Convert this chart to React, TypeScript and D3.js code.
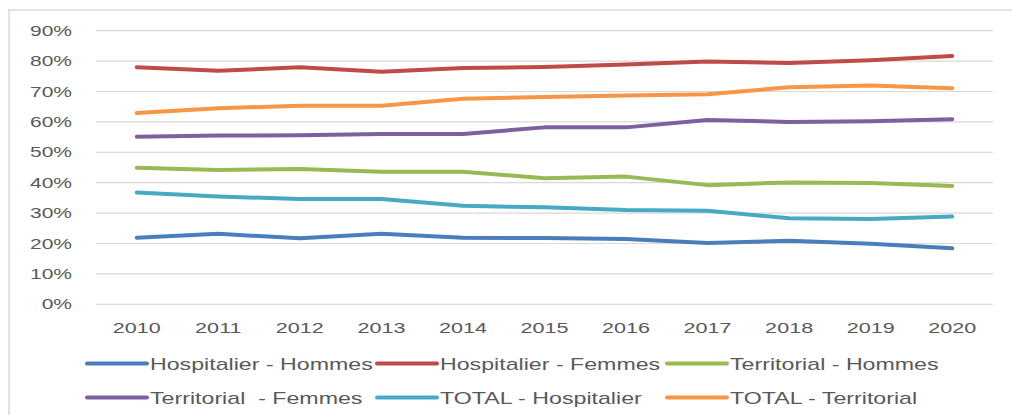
import React from "react";
import * as d3 from "d3";

const years = ["2010", "2011", "2012", "2013", "2014", "2015", "2016", "2017", "2018", "2019", "2020"];

const hospHommes = [0.219, 0.232, 0.217, 0.232, 0.219, 0.218, 0.215, 0.202, 0.209, 0.199, 0.184];
const hospFemmes = [0.780, 0.768, 0.780, 0.765, 0.777, 0.781, 0.789, 0.799, 0.794, 0.803, 0.817];
const terrHommes = [0.449, 0.442, 0.445, 0.436, 0.436, 0.415, 0.420, 0.392, 0.401, 0.399, 0.389];
const terrFemmes = [0.551, 0.555, 0.556, 0.560, 0.560, 0.582, 0.582, 0.606, 0.600, 0.602, 0.609];
const totalHosp = [0.368, 0.355, 0.346, 0.346, 0.324, 0.319, 0.310, 0.308, 0.283, 0.281, 0.289];
const totalTerr = [0.629, 0.645, 0.653, 0.653, 0.676, 0.682, 0.687, 0.691, 0.714, 0.720, 0.711];

const seriesNames = [
  "Hospitalier - Hommes",
  "Hospitalier - Femmes",
  "Territorial - Hommes",
  "Territorial  - Femmes",
  "TOTAL - Hospitalier",
  "TOTAL - Territorial",
];
const seriesValues = [hospHommes, hospFemmes, terrHommes, terrFemmes, totalHosp, totalTerr];
const seriesColors = ["#4a7ebb", "#be4b48", "#98b954", "#7d60a0", "#46aac5", "#f79646"];

const yTicks = [0, 0.1, 0.2, 0.3, 0.4, 0.5, 0.6, 0.7, 0.8, 0.9];

const W = 1012;
const H = 415;
const FONT = "'Liberation Sans', Arial, sans-serif";
const TEXT = "#595959";

export default function App() {
  const x = d3.scalePoint<string>().domain(years).range([96, 993]).padding(0.5);
  const y = d3.scaleLinear().domain([0, 0.9]).range([304.3, 30.7]);
  const fmt = d3.format(".0%");
  const line = d3
    .line<number>()
    .x((_, i) => x(years[i]) as number)
    .y((d) => y(d));

  const legendCols = [87, 377, 667];
  const legendRows = [363.5, 397.5];

  return (
    <svg
      width={W}
      height={H}
      style={{ position: "fixed", left: 0, top: 0, background: "#fff" }}
    >
      <rect x={0} y={0} width={W} height={H} fill="#fff" />
      <rect x={9} y={10} width={W + 20} height={H + 20} fill="none" stroke="#d9d9d9" strokeWidth={1.5} />
      {yTicks.map((t) => (
        <g key={t}>
          <line x1={96} x2={993} y1={y(t)} y2={y(t)} stroke="#d9d9d9" strokeWidth={1.2} />
          <g transform={`translate(72,${y(t) + 5}) scale(1.5,1)`}>
            <text textAnchor="end" fontFamily={FONT} fontSize={14} fill={TEXT}>
              {fmt(t)}
            </text>
          </g>
        </g>
      ))}
      {years.map((yr) => (
        <g key={yr} transform={`translate(${x(yr)},332.5) scale(1.44,1)`}>
          <text textAnchor="middle" fontFamily={FONT} fontSize={15} fill={TEXT}>
            {yr}
          </text>
        </g>
      ))}
      {seriesValues.map((vals, i) => (
        <path
          key={seriesNames[i]}
          d={line(vals) || ""}
          fill="none"
          stroke={seriesColors[i]}
          strokeWidth={4}
          strokeLinecap="round"
          strokeLinejoin="round"
        />
      ))}
      {seriesNames.map((name, i) => {
        const cx = legendCols[i % 3];
        const cy = legendRows[Math.floor(i / 3)];
        return (
          <g key={name}>
            <line
              x1={cx}
              x2={cx + 60}
              y1={cy}
              y2={cy}
              stroke={seriesColors[i]}
              strokeWidth={4}
              strokeLinecap="round"
            />
            <g transform={`translate(${cx + 63},${cy + 6}) scale(1.45,1)`}>
              <text fontFamily={FONT} fontSize={16} fill={TEXT} style={{ whiteSpace: "pre" }}>
                {name}
              </text>
            </g>
          </g>
        );
      })}
    </svg>
  );
}
